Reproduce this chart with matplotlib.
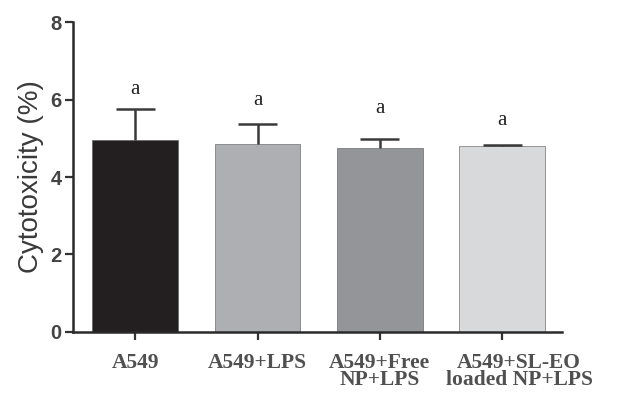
import numpy as np
import matplotlib
matplotlib.use("Agg")
import matplotlib.pyplot as plt
import matplotlib.transforms as mtransforms

# data
groups = ["A549", "A549+LPS", "A549+Free\nNP+LPS", "A549+SL-EO\nloaded NP+LPS"]
means = [4.95, 4.84, 4.76, 4.80]
errs = [0.80, 0.53, 0.22, 0.03]
letters = ["a", "a", "a", "a"]
letter_y = [6.27, 5.97, 5.76, 5.45]
colors = ["#231f20", "#aeafb3", "#939598", "#d8d9db"]

fig = plt.figure(figsize=(6.17, 3.96), dpi=100)
ax = fig.add_axes([0.118, 0.162, 0.793, 0.782])

x = np.arange(len(groups))
m = np.array(means)
e = np.array(errs)
ax.bar(x, m, width=0.7, color=colors, edgecolor="#555555", linewidth=0.4, zorder=2)
# upper-only error bars, no cap at the bar top
ax.vlines(x, m, m + e, color="#3a3a3a", linewidth=1.8, zorder=3)
ax.hlines(m + e, x - 0.16, x + 0.16, color="#3a3a3a", linewidth=1.8, zorder=3)

for xi, yi, t in zip(x, letter_y, letters):
    ax.text(xi, yi, t, ha="center", va="center", fontsize=15,
            family="Liberation Serif", color="#222222")

ax.set_xlim(-0.51, 3.49)
ax.set_ylim(0, 8)
ax.set_yticks([0, 2, 4, 6, 8])
ax.set_xticks(x)
ax.set_xticklabels(groups, family="Liberation Serif", fontweight="bold",
                   fontsize=15.5, color="#505050", linespacing=0.82)
ax.tick_params(axis="y", labelsize=14.5, width=1.6, length=6, colors="#333333", pad=2)
for lab in ax.get_yticklabels():
    lab.set_fontweight("bold")
    lab.set_family("Liberation Sans")
    lab.set_color("#444444")
ax.tick_params(axis="x", width=1.6, length=6, colors="#333333", pad=9)
for lab in ax.get_xticklabels():
    lab.set_color("#505050")

# last label sits a bit to the right of its tick
off = mtransforms.ScaledTranslation(17 / 100, 0, fig.dpi_scale_trans)
lab = ax.get_xticklabels()[3]
lab.set_transform(lab.get_transform() + off)

ax.set_ylabel("Cytotoxicity (%)", fontsize=20, family="Liberation Sans",
              color="#3a3a3a", labelpad=5)

for s in ["top", "right"]:
    ax.spines[s].set_visible(False)
for s in ["left", "bottom"]:
    ax.spines[s].set_linewidth(1.8)
    ax.spines[s].set_color("#2a2a2a")

fig.savefig("out.png", dpi=100)
